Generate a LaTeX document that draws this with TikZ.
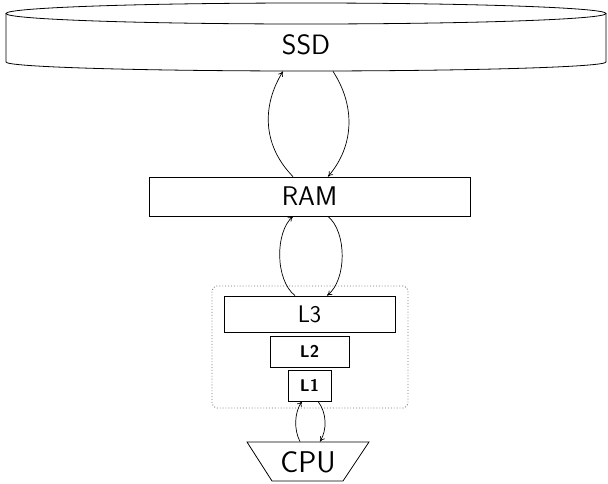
\documentclass[tikz,border=0pt]{standalone}
\usetikzlibrary{arrows.meta}
\begin{document}
\begin{tikzpicture}[x=1pt,y=-1pt,line width=0.8pt,
  box/.style={draw,rectangle,inner sep=0pt,font=\sffamily},
  ghost/.style={rectangle,inner sep=0pt},
  link/.style={-{To[length=5pt,width=5.5pt]},line width=0.7pt}]
\useasboundingbox (0,0) rectangle (608,483);
% SSD cylinder
\draw (306,13.5) ellipse [x radius=300, y radius=10.5];
\draw (6,13.5) -- (6,62) arc [start angle=180, end angle=0, x radius=300, y radius=9] -- (606,13.5);
\node (ssdbody) [ghost, minimum width=600pt, minimum height=68pt] at (306,37) {};
\node (ssd) [ghost, font=\sffamily\fontsize{28}{30}\selectfont] at (306,45) {SSD};
% RAM
\node (ram) [box, minimum width=321pt, minimum height=39pt, font=\sffamily\fontsize{27}{29}\selectfont] at (309.5,196.5) {RAM};
% caches
\node (cache) [draw=black!55, dotted, rounded corners=5pt, line width=0.9pt, ghost, minimum width=196pt, minimum height=122pt] at (310,347) {};
\node (l3) [box, minimum width=171pt, minimum height=36pt, font=\sffamily\fontsize{24}{26}\selectfont] at (309.5,314) {L3};
\node (l2) [box, minimum width=79pt, minimum height=31pt, font=\sffamily\bfseries\fontsize{17}{19}\selectfont] at (309.5,351.5) {L2};
\node (l1) [box, minimum width=43pt, minimum height=31pt, font=\sffamily\bfseries\fontsize{17}{19}\selectfont] at (309.5,385.5) {L1};
% CPU
\draw (247,442) -- (369,442) -- (343,481) -- (272,481) -- cycle;
\node (cpu) [ghost, minimum width=122pt, minimum height=39pt] at (308,461.5) {};
\node (cpulabel) [ghost, font=\sffamily\fontsize{30}{32}\selectfont] at (308,462) {CPU};
% links
\draw[link] ([xshift=-16.5pt]ram.north) .. controls (262,145) and (262,105) .. ([xshift=-23pt]ssdbody.south);
\draw[link] ([xshift=27pt]ssdbody.south) .. controls (355,105) and (355,145) .. ([xshift=18.5pt]ram.north);
\draw[link] ([xshift=-14.5pt]l3.north) .. controls (275,280) and (275,232) .. ([xshift=-16.5pt]ram.south);
\draw[link] ([xshift=18.5pt]ram.south) .. controls (347,232) and (347,280) .. ([xshift=17.5pt]l3.north);
\draw[link] ([xshift=-8pt]cpu.north) .. controls (294,430) and (294,413) .. ([xshift=-7.5pt]l1.south);
\draw[link] ([xshift=8.5pt]l1.south) .. controls (327,413) and (327,430) .. ([xshift=12pt]cpu.north);
\end{tikzpicture}
\end{document}
